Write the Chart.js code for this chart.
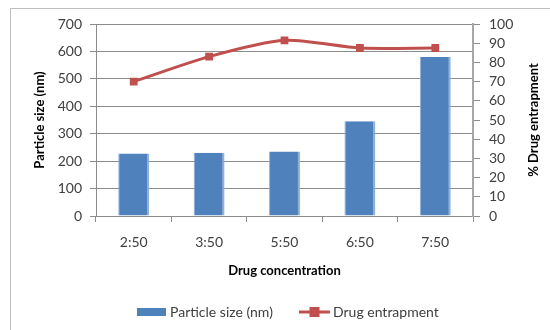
<!DOCTYPE html>
<html>
<head>
<meta charset="utf-8">
<script src="https://cdn.jsdelivr.net/npm/chart.js@4.4.1/dist/chart.umd.min.js"></script>
<style>
  html, body { margin: 0; padding: 0; background: #ffffff; }
  #wrap { width: 550px; height: 330px; position: relative; }
</style>
</head>
<body>
<div id="wrap"><canvas id="c" width="550" height="330"></canvas></div>
<script>
// Drug:polymer ratios and measured results
const categories = ['2:50', '3:50', '5:50', '6:50', '7:50'];
const particleSize = [228, 231, 235, 345, 580];      // nm
const drugEntrapment = [70, 83, 91.5, 87.5, 87.5];   // %
const leftTicks = [0, 700, 100];   // min, max, step
const rightTicks = [0, 100, 10];
const rightTitle = '% Drug entrapment';

const BLUE = '#4F81BD';
const RED = '#C0504D';
const GRID = '#8C8C8C';
const TICK_COLOR = '#404040';
const FONT = 'Lato, "Liberation Sans", sans-serif';

// Frame drawn around the whole chart area (only top and left edges fall inside the canvas)
const framePlugin = {
  id: 'frame',
  beforeDraw(chart) {
    const ctx = chart.ctx;
    ctx.save();
    ctx.strokeStyle = '#BFBFBF';
    ctx.lineWidth = 1;
    ctx.strokeRect(10.5, 8.5, 560, 340);
    ctx.restore();
  }
};

// Secondary axis title, written bottom-to-top like the primary one
const rightTitlePlugin = {
  id: 'rightTitle',
  afterDraw(chart) {
    const ctx = chart.ctx;
    const area = chart.chartArea;
    const s = chart.scales.y1;
    ctx.save();
    ctx.translate(s.right - 16, (area.top + area.bottom) / 2);
    ctx.rotate(-Math.PI / 2);
    ctx.font = 'bold 13px ' + FONT;
    ctx.fillStyle = '#000000';
    ctx.textAlign = 'center';
    ctx.textBaseline = 'middle';
    ctx.fillText(rightTitle, 0, 0);
    ctx.restore();
  }
};

// Legend with a bar swatch and a line-with-marker swatch, centred under the chart
const legendPlugin = {
  id: 'customLegend',
  afterDraw(chart) {
    const ctx = chart.ctx;
    const ds = chart.data.datasets;
    const y = 312;
    ctx.save();
    ctx.font = '14px ' + FONT;
    ctx.textBaseline = 'middle';
    // bar entry
    let x = 137;
    ctx.fillStyle = ds[0].backgroundColor;
    ctx.fillRect(x, y - 4, 29, 8);
    ctx.fillStyle = '#404040';
    ctx.fillText(ds[0].label, x + 33, y);
    // line entry
    x = 299;
    ctx.strokeStyle = ds[1].borderColor;
    ctx.lineWidth = 3;
    ctx.beginPath();
    ctx.moveTo(x, y);
    ctx.lineTo(x + 31, y);
    ctx.stroke();
    ctx.fillStyle = ds[1].pointBackgroundColor;
    ctx.fillRect(x + 15.5 - 5, y - 5, 10, 10);
    ctx.fillStyle = '#404040';
    ctx.fillText(ds[1].label, x + 34, y);
    ctx.restore();
  }
};

new Chart(document.getElementById('c'), {
  type: 'bar',
  data: {
    labels: categories,
    datasets: [
      {
        type: 'bar',
        label: 'Particle size (nm)',
        data: particleSize,
        backgroundColor: BLUE,
        borderColor: '#8DB0DA',
        borderWidth: { left: 1, right: 2, top: 0, bottom: 0 },
        barPercentage: 0.41,
        categoryPercentage: 1,
        yAxisID: 'y',
        order: 1
      },
      {
        type: 'line',
        label: 'Drug entrapment',
        data: drugEntrapment,
        borderColor: RED,
        borderWidth: 3,
        pointStyle: 'rect',
        pointRadius: 5.5,
        pointBackgroundColor: RED,
        pointBorderColor: RED,
        pointBorderWidth: 0,
        tension: 0.25,
        yAxisID: 'y1',
        order: 0
      }
    ]
  },
  options: {
    responsive: false,
    animation: false,
    devicePixelRatio: 1,
    layout: { padding: { top: 24, bottom: 50, left: 0, right: 0 } },
    plugins: {
      legend: { display: false },
      tooltip: { enabled: false }
    },
    scales: {
      x: {
        offset: true,
        grid: {
          display: true,
          drawOnChartArea: false,
          drawTicks: true,
          tickLength: 6,
          color: GRID,
          offset: true
        },
        border: { display: true, color: GRID, width: 1 },
        ticks: {
          color: TICK_COLOR,
          font: { family: FONT, size: 14 },
          padding: 12,
          maxRotation: 0
        },
        title: {
          display: true,
          text: 'Drug concentration',
          color: '#000000',
          font: { family: FONT, size: 13, weight: 'bold' },
          padding: { top: 0, bottom: 1 }
        },
        afterFit(scale) { scale.height = 64; }
      },
      y: {
        position: 'left',
        min: leftTicks[0],
        max: leftTicks[1],
        ticks: {
          stepSize: leftTicks[2],
          autoSkip: false,
          color: TICK_COLOR,
          font: { family: FONT, size: 14 },
          padding: 8
        },
        grid: { color: GRID, tickLength: 6, drawTicks: true },
        border: { display: true, color: GRID, width: 1 },
        title: {
          display: true,
          text: 'Particle size (nm)',
          color: '#000000',
          font: { family: FONT, size: 13, weight: 'bold' },
          padding: { top: 32, bottom: 0 }
        },
        afterFit(scale) { scale.width = 96; }
      },
      y1: {
        position: 'right',
        min: rightTicks[0],
        max: rightTicks[1],
        ticks: {
          stepSize: rightTicks[2],
          autoSkip: false,
          color: TICK_COLOR,
          font: { family: FONT, size: 14 },
          padding: 9
        },
        grid: { drawOnChartArea: false, color: GRID, tickLength: 7 },
        border: { display: true, color: '#A6A6A6', width: 2 },
        title: { display: false },
        afterFit(scale) { scale.width = 77; }
      }
    }
  },
  plugins: [framePlugin, rightTitlePlugin, legendPlugin]
});
</script>
</body>
</html>
